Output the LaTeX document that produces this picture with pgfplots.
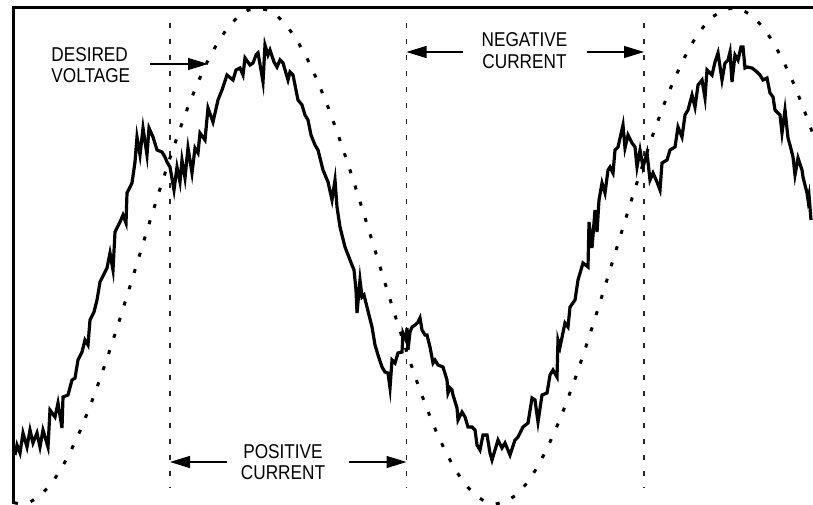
\documentclass[border=0pt]{standalone}
\usepackage{fontspec}
\newfontfamily\lab[FakeStretch=0.86]{Liberation Sans}
\usepackage{pgfplots}
\pgfplotsset{compat=1.18}
\usetikzlibrary{arrows.meta}
\begin{document}
\begin{tikzpicture}
\useasboundingbox (0,0) rectangle (406.5pt,252pt);
\begin{axis}[
  scale only axis, width=406.5pt, height=252pt,
  xmin=0, xmax=813, ymin=0, ymax=504, y dir=reverse,
  hide axis,
]
% frame (left and top)
\draw[line width=1.5pt] (axis cs:13,504) -- (axis cs:13,7) -- (axis cs:813,7);
% vertical dashed markers
\addplot[black!85, line width=0.65pt, dash pattern=on 2.5pt off 5.5pt] coordinates {(170,23) (170,488)};
\addplot[black!85, line width=0.65pt, dash pattern=on 2.5pt off 5.5pt] coordinates {(406.5,23) (406.5,488)};
\addplot[black!85, line width=0.65pt, dash pattern=on 2.5pt off 5.5pt] coordinates {(644,23) (644,488)};
% desired voltage (dotted)
\addplot[black, line width=1.5pt, dash pattern=on 2pt off 6.5pt] coordinates {
(14,502.7) (20.50,504) (30.40,501.88) (40.29,495.55)
(50.19,485.12) (60.08,470.78) (69.98,452.75) (79.88,431.36) (89.77,406.97) (99.67,380)
(109.56,350.90) (119.46,320.19) (129.35,288.37) (139.25,256) (149.15,223.63) (159.04,191.81)
(168.94,161.10) (178.83,132) (188.73,105.03) (198.63,80.64) (208.52,59.25) (218.42,41.22)
(228.31,26.88) (238.21,16.45) (248.10,10.12) (258,8) (267.90,10.12) (277.79,16.45)
(287.69,26.88) (297.58,41.22) (307.48,59.25) (317.38,80.64) (327.27,105.03) (337.17,132)
(347.06,161.10) (356.96,191.81) (366.85,223.63) (376.75,256) (386.65,288.37) (396.54,320.19)
(406.44,350.90) (416.33,380) (426.23,406.97) (436.13,431.36) (446.02,452.75) (455.92,470.78)
(465.81,485.12) (475.71,495.55) (485.60,501.88) (495.50,504) (505.40,501.88) (515.29,495.55)
(525.19,485.12) (535.08,470.78) (544.98,452.75) (554.88,431.36) (564.77,406.97) (574.67,380)
(584.56,350.90) (594.46,320.19) (604.35,288.37) (614.25,256) (624.15,223.63) (634.04,191.81)
(643.94,161.10) (653.83,132) (663.73,105.03) (673.63,80.64) (683.52,59.25) (693.42,41.22)
(703.31,26.88) (713.21,16.45) (723.10,10.12) (733,8) (742.90,10.12) (752.79,16.45)
(762.69,26.88) (772.58,41.22) (782.48,59.25) (792.38,80.64) (802.27,105.03) (812.17,132)
(822.06,161.10)
};
% actual voltage (noisy solid)
\addplot[black, line width=1.6pt] coordinates {
(15,455) (17,445) (20,453) (23,433) (27,447) (30,430) (33,443) (37,433) (40,447) (43,430)
(48,447) (50,410) (55,417) (58,403) (62,428) (63,397) (68,395) (72,380) (75,378) (78,360)
(82,352) (85,340) (88,345) (90,320) (94,312) (97,300) (100,282) (107,268) (110,253) (113,270)
(115,232) (120,222) (123,215) (126,223) (127,193) (132,183) (135,162) (137,137) (140,155)
(143,128) (147,155) (149,128) (153,137) (157,150) (162,152) (165,157) (167,162) (170,167)
(174,190) (177,167) (180,182) (182,160) (185,178) (188,148) (192,173) (195,148) (198,153)
(200,133) (205,140) (208,108) (213,122) (218,100) (222,90) (227,75) (233,80) (236,70)
(240,68) (243,75) (245,58) (250,65) (253,63) (256,55) (258,53) (261,70) (263,82) (265,45)
(268,55) (270,50) (274,62) (277,67) (280,60) (283,63) (288,80) (290,72) (293,75) (298,100)
(302,105) (305,115) (308,120) (311,135) (315,145) (318,150) (323,170) (328,182) (332,200)
(335,180) (337,207) (340,227) (345,247) (350,260) (354,270) (356,290) (357,313) (360,280)
(362,297) (364,295) (367,307) (372,327) (375,345) (378,355) (382,367) (385,372) (388,373)
(390,388) (392,360) (395,363) (398,353) (402,352) (403,333) (406,340) (407,328) (408,350)
(410,332) (412,327) (415,325) (418,322) (420,318) (422,330) (425,335) (427,335) (430,347)
(433,363) (435,360) (438,365) (443,367) (447,380) (448,393) (450,388) (452,390) (453,395)
(457,408) (458,420) (462,412) (465,417) (468,427) (472,427) (475,430) (477,445) (480,450)
(483,435) (487,435) (490,453) (492,460) (495,450) (498,440) (502,448) (505,443) (510,455)
(515,440) (518,437) (523,427) (528,423) (532,398) (535,400) (538,422) (542,395) (547,393)
(550,375) (553,370) (557,377) (558,340) (560,347) (565,323) (568,327) (570,307) (575,300)
(578,280) (583,263) (588,267) (589,222) (592,248) (595,210) (597,232) (599,200) (602,183)
(605,193) (608,170) (610,167) (613,173) (615,150) (618,147) (623,125) (625,148) (628,135)
(632,143) (635,147) (637,167) (640,150) (643,167) (647,153) (650,180) (653,173) (657,182)
(660,190) (662,163) (667,160) (670,150) (675,147) (678,127) (682,137) (685,115) (688,110)
(692,95) (695,107) (698,85) (702,80) (705,98) (707,70) (712,75) (715,62) (718,53) (722,80)
(725,63) (728,60) (730,52) (732,82) (735,55) (738,60) (741,47) (743,47) (745,68) (747,67)
(752,68) (757,72) (760,75) (763,80) (767,78) (770,93) (773,97) (775,110) (780,115) (782,133)
(785,110) (788,138) (790,145) (793,157) (795,175) (798,158) (802,170) (803,177) (807,193)
(808,200) (809,195) (811,220)
};
% annotations
\node[anchor=base west, inner sep=0pt, font=\lab\fontsize{10}{10}\selectfont] at (axis cs:51,61) {DESIRED};
\node[anchor=base west, inner sep=0pt, font=\lab\fontsize{10}{10}\selectfont] at (axis cs:51,82) {VOLTAGE};
\draw[line width=0.6pt, -{Triangle[length=10pt,width=6pt]}] (axis cs:150,64) -- (axis cs:208,64);

\node[anchor=base, inner sep=0pt, font=\lab\fontsize{10}{10}\selectfont] at (axis cs:524.5,46.7) {NEGATIVE};
\node[anchor=base, inner sep=0pt, font=\lab\fontsize{10}{10}\selectfont] at (axis cs:524.5,68.3) {CURRENT};
\draw[line width=0.6pt, -{Triangle[length=10pt,width=6pt]}] (axis cs:463,52) -- (axis cs:406.5,52);
\draw[line width=0.6pt, -{Triangle[length=10pt,width=6pt]}] (axis cs:586.7,52) -- (axis cs:644,52);

\node[anchor=base, inner sep=0pt, font=\lab\fontsize{10}{10}\selectfont] at (axis cs:283,458.3) {POSITIVE};
\node[anchor=base, inner sep=0pt, font=\lab\fontsize{10}{10}\selectfont] at (axis cs:283,479.3) {CURRENT};
\draw[line width=0.6pt, -{Triangle[length=10pt,width=6pt]}] (axis cs:226.7,462) -- (axis cs:170,462);
\draw[line width=0.6pt, -{Triangle[length=10pt,width=6pt]}] (axis cs:349,462) -- (axis cs:406.5,462);
\end{axis}
\end{tikzpicture}
\end{document}
